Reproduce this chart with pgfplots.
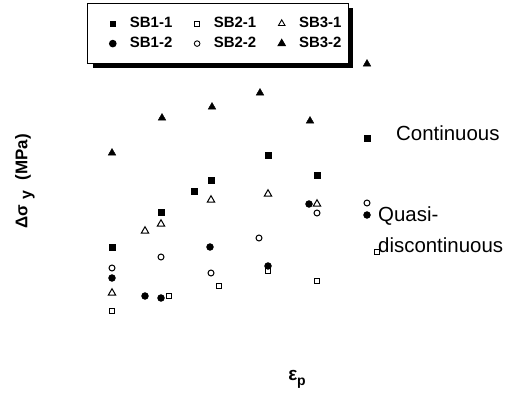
\documentclass[border=0pt]{standalone}
\usepackage{pgfplots}
\pgfplotsset{compat=1.18}
\usepackage{fontspec}
\setmainfont{Liberation Sans}
\usetikzlibrary{shadows}
\begin{document}
\begin{tikzpicture}
\begin{axis}[
  scale only axis, width=516bp, height=393bp,
  xmin=0, xmax=516, ymin=0, ymax=393,
  hide axis, clip=false,
  legend columns=3,
  legend style={at={(axis cs:87,390)}, anchor=north west, draw=black, line width=1.2bp, fill=white,
    drop shadow={shadow xshift=5bp, shadow yshift=-4bp, fill=black, opacity=1},
    font=\fontsize{15}{17}\selectfont\bfseries,
    inner xsep=22bp, inner ysep=12bp,
    nodes={inner sep=1bp, text height=11bp, text depth=3bp},
    row sep=4bp,
    /tikz/every odd column/.append style={column sep=13bp},
    /tikz/every even column/.append style={column sep=21bp}},
  legend cell align=left,
]
% SB1-2 drawn first so open marks can overlap it
\addplot[only marks, mark=*, mark size=3.5, black, forget plot] coordinates {
(112,115) (145,97) (161,95) (210,146) (268,127) (309,189) (367,178)};
\addplot[only marks, mark=square*, mark size=3, black, forget plot] coordinates {
(112,146) (161,181) (194,202) (211,213) (268,238) (317,218) (367,255)};
\addplot[only marks, mark=square, mark size=3, black, line width=1bp, mark options={fill=white}, forget plot] coordinates {
(112,82) (169,97) (219,107) (268,122) (317,112) (377,141)};
\addplot[only marks, mark=o, mark size=3, black, line width=1bp, forget plot] coordinates {
(112,125) (161,136) (211,120) (259,155) (317,180) (367,190)};
\addplot[only marks, mark=triangle, mark size=4.3, black, line width=1bp, forget plot] coordinates {
(112,100) (145,162) (161,169) (211,193) (268,199) (317,189)};
\addplot[only marks, mark=triangle*, mark size=4.5, black, forget plot] coordinates {
(112,240) (162,275) (212,286) (260,300) (310,272) (367,329)};

\addlegendimage{only marks, mark=square*, mark size=2.5, black}
\addlegendentry{SB1-1}
\addlegendimage{only marks, mark=square, mark size=2.5, black, line width=0.9bp}
\addlegendentry{SB2-1}
\addlegendimage{only marks, mark=triangle, mark size=3.8, black, line width=0.9bp}
\addlegendentry{\makebox[26bp][l]{SB3-1}}
\addlegendimage{only marks, mark=*, mark size=3.2, black}
\addlegendentry{SB1-2}
\addlegendimage{only marks, mark=o, mark size=2.8, black, line width=0.9bp}
\addlegendentry{SB2-2}
\addlegendimage{only marks, mark=triangle*, mark size=4, black}
\addlegendentry{\makebox[26bp][l]{SB3-2}}

\path (axis cs:0,0) rectangle (axis cs:516,393);
\node[rotate=90, inner sep=0] at (axis cs:25,211.5) {\bfseries\fontsize{17}{20}\selectfont Δσ\hspace{6bp}\raisebox{-4bp}{\fontsize{16}{18}\selectfont y}\hspace{10bp}(MPa)};
\node[inner sep=0] at (axis cs:297,14) {\fontsize{19}{20}\selectfont\bfseries ε\raisebox{-5bp}{\fontsize{14}{14}\selectfont p}};
\node[anchor=base west, inner sep=0] at (axis cs:396,252.3) {\fontsize{20.5}{24}\selectfont Continuous};
\node[anchor=base west, inner sep=0] at (axis cs:378,171.3) {\fontsize{20.5}{24}\selectfont Quasi-};
\node[anchor=base west, inner sep=0] at (axis cs:378,140.3) {\fontsize{20.5}{24}\selectfont discontinuous};
\end{axis}
\end{tikzpicture}
\end{document}
